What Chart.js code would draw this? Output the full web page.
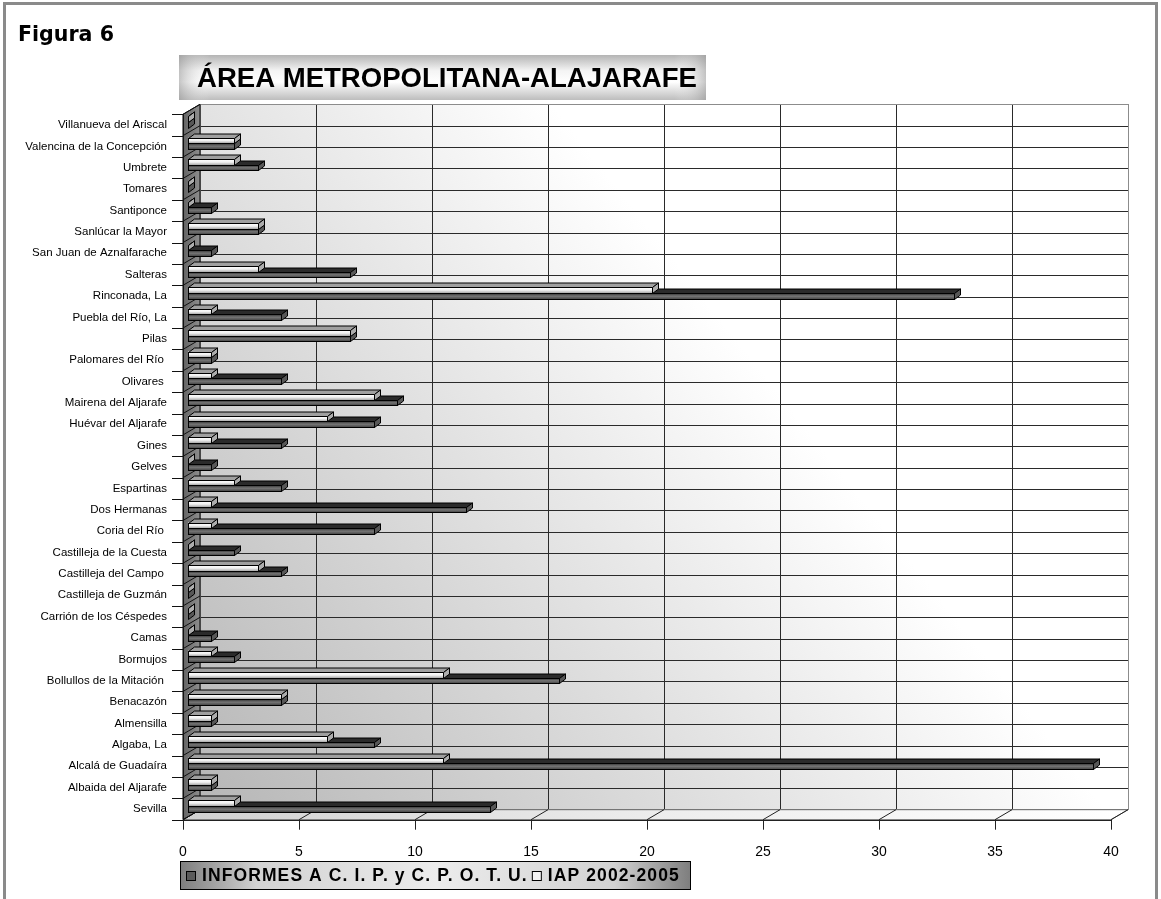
<!DOCTYPE html>
<html>
<head>
<meta charset="utf-8">
<script src="https://cdn.jsdelivr.net/npm/chart.js@4.4.1/dist/chart.umd.min.js"></script>
<style>
  html, body { margin: 0; padding: 0; background: #ffffff; }
  canvas { display: block; }
</style>
</head>
<body>
<canvas id="chart" width="1161" height="899"></canvas>
<script>
// Municipalities, listed from the bottom row upwards
const categories = [
  "Sevilla", "Albaida del Aljarafe", "Alcalá de Guadaíra", "Algaba, La", "Almensilla",
  "Benacazón", "Bollullos de la Mitación ", "Bormujos", "Camas", "Carrión de los Céspedes",
  "Castilleja de Guzmán", "Castilleja del Campo ", "Castilleja de la Cuesta", "Coria del Río ",
  "Dos Hermanas", "Espartinas", "Gelves", "Gines", "Huévar del Aljarafe", "Mairena del Aljarafe",
  "Olivares ", "Palomares del Río ", "Pilas", "Puebla del Río, La", "Rinconada, La", "Salteras",
  "San Juan de Aznalfarache", "Sanlúcar la Mayor", "Santiponce", "Tomares", "Umbrete",
  "Valencina de la Concepción", "Villanueva del Ariscal"
];

// INFORMES A C. I. P. y C. P. O. T. U.
const informes = [13, 1, 39, 8, 1, 4, 16, 2, 1, 0, 0, 4, 2, 8, 12, 4, 1, 4, 8, 9, 4, 1, 7, 4, 33, 7, 1, 3, 1, 0, 3, 2, 0];

// IAP 2002-2005
const iap = [2, 1, 11, 6, 1, 4, 11, 1, 0, 0, 0, 3, 0, 1, 1, 2, 0, 1, 6, 8, 1, 1, 7, 1, 20, 3, 0, 3, 0, 0, 2, 2, 0];

const xTicks = [0, 5, 10, 15, 20, 25, 30, 35, 40];
const seriesNames = ["INFORMES A C. I. P. y C. P. O. T. U.", "IAP 2002-2005"];
const figureLabel = "Figura 6";
const titleText = "ÁREA METROPOLITANA-ALAJARAFE";

// Depth projection: the bars sit in a middle plane; front edge and back wall are offset from it
const FRONT = { dx: -5, dy: 3 };
const BACK = { dx: 12, dy: -7 };
const BAR_DEPTH = { dx: 6, dy: -4.5 };

function line(ctx, x1, y1, x2, y2) {
  ctx.beginPath();
  ctx.moveTo(x1, y1);
  ctx.lineTo(x2, y2);
  ctx.stroke();
}
function poly(ctx, pts, fill, stroke) {
  ctx.beginPath();
  ctx.moveTo(pts[0][0], pts[0][1]);
  for (let i = 1; i < pts.length; i++) ctx.lineTo(pts[i][0], pts[i][1]);
  ctx.closePath();
  if (fill) { ctx.fillStyle = fill; ctx.fill(); }
  if (stroke) { ctx.strokeStyle = stroke; ctx.lineWidth = 1; ctx.stroke(); }
}
function fitFont(ctx, text, weight, family, targetWidth, maxSize) {
  ctx.font = weight + " 20px " + family;
  const w = ctx.measureText(text).width;
  return Math.min(maxSize, 20 * targetWidth / w);
}

// Page frame, figure label, title banner and legend
const decorPlugin = {
  id: "decor",
  beforeDraw(chart) {
    const ctx = chart.ctx;
    ctx.save();
    ctx.fillStyle = "#ffffff";
    ctx.fillRect(0, 0, chart.width, chart.height);

    // outer frame
    ctx.strokeStyle = "#8a8a8a";
    ctx.lineWidth = 3;
    ctx.beginPath();
    ctx.moveTo(4.5, 940);
    ctx.lineTo(4.5, 3.5);
    ctx.lineTo(1156.5, 3.5);
    ctx.lineTo(1156.5, 940);
    ctx.stroke();

    // figure label
    const fam = '"DejaVu Sans", Verdana, sans-serif';
    let s = fitFont(ctx, figureLabel, "bold", fam, 96, 21);
    ctx.font = "bold " + s + "px " + fam;
    ctx.fillStyle = "#000";
    ctx.textBaseline = "middle";
    ctx.textAlign = "left";
    ctx.fillText(figureLabel, 18, 36);

    // title banner
    const bx = 179, by = 55, bw = 527, bh = 45;
    let g = ctx.createLinearGradient(0, by, 0, by + bh);
    g.addColorStop(0, "#b4b4b4");
    g.addColorStop(0.35, "#f4f4f4");
    g.addColorStop(0.6, "#ffffff");
    g.addColorStop(1, "#bdbdbd");
    ctx.fillStyle = g;
    ctx.fillRect(bx, by, bw, bh);
    g = ctx.createLinearGradient(bx, 0, bx + bw, 0);
    g.addColorStop(0, "rgba(150,150,150,0.55)");
    g.addColorStop(0.06, "rgba(255,255,255,0)");
    g.addColorStop(0.94, "rgba(255,255,255,0)");
    g.addColorStop(1, "rgba(150,150,150,0.55)");
    ctx.fillStyle = g;
    ctx.fillRect(bx, by, bw, bh);
    const tfam = '"Liberation Sans", Arial, sans-serif';
    s = fitFont(ctx, titleText, "bold", tfam, 500, 30);
    ctx.font = "bold " + s + "px " + tfam;
    ctx.fillStyle = "#000";
    ctx.textAlign = "left";
    ctx.fillText(titleText, 197, 79);
    ctx.restore();
  },
  afterDraw(chart) {
    const ctx = chart.ctx;
    ctx.save();
    const lx = 180.5, ly = 861.5, lw = 510, lh = 28;
    const g = ctx.createLinearGradient(lx, 0, lx + lw, 0);
    g.addColorStop(0, "#7e7e7e");
    g.addColorStop(0.15, "#d2d2d2");
    g.addColorStop(0.5, "#ececec");
    g.addColorStop(0.85, "#d2d2d2");
    g.addColorStop(1, "#7e7e7e");
    ctx.fillStyle = g;
    ctx.fillRect(lx, ly, lw, lh);
    ctx.strokeStyle = "#000";
    ctx.lineWidth = 1;
    ctx.strokeRect(lx, ly, lw, lh);

    const fam = '"Liberation Sans", Arial, sans-serif';
    ctx.font = "bold 17.5px " + fam;
    const natural = ctx.measureText(seriesNames[0]).width;
    const spacing = Math.max(0, (326 - natural) / seriesNames[0].length);
    ctx.letterSpacing = spacing.toFixed(2) + "px";
    ctx.textBaseline = "middle";
    ctx.textAlign = "left";
    const cy = ly + lh / 2 + 0.5;
    let x = 186;
    const ds = chart.data.datasets;
    for (let i = 0; i < ds.length; i++) {
      ctx.fillStyle = ds[i].backgroundColor;
      ctx.fillRect(x + 0.5, cy - 4.5, 9, 9);
      ctx.strokeStyle = "#000";
      ctx.strokeRect(x + 0.5, cy - 4.5, 9, 9);
      ctx.fillStyle = "#000";
      ctx.fillText(ds[i].label, x + 16, cy);
      x += 16 + ctx.measureText(ds[i].label).width + 4;
    }
    ctx.restore();
  }
};

// Back wall, side wall, floor, grid and tick marks in perspective
const boxPlugin = {
  id: "box3d",
  beforeDatasetsDraw(chart) {
    const { ctx, chartArea: a } = chart;
    const xs = chart.scales.x;
    const n = categories.length;
    const band = (a.bottom - a.top) / n;
    const fx = v => xs.getPixelForValue(v) + FRONT.dx;
    const bxp = v => xs.getPixelForValue(v) + BACK.dx;
    const topB = a.top + BACK.dy, botB = a.bottom + BACK.dy;
    const topF = a.top + FRONT.dy, botF = a.bottom + FRONT.dy;
    const l0F = fx(xTicks[0]), l0B = bxp(xTicks[0]);
    const rF = fx(xTicks[xTicks.length - 1]), rB = bxp(xTicks[xTicks.length - 1]);
    const r = v => Math.round(v) + 0.5;

    ctx.save();
    // back wall
    const g = ctx.createLinearGradient(l0B, botB, l0B + 560, botB - 440);
    g.addColorStop(0, "#b6b6b6");
    g.addColorStop(1, "#ffffff");
    ctx.fillStyle = g;
    ctx.fillRect(l0B, topB, rB - l0B, botB - topB);

    ctx.lineWidth = 1;
    ctx.strokeStyle = "#2a2a2a";
    for (let k = 1; k < n; k++) {
      const yy = r(a.top + k * band + BACK.dy);
      line(ctx, l0B, yy, rB, yy);
    }
    for (let i = 1; i < xTicks.length - 1; i++) {
      const xx = r(bxp(xTicks[i]));
      line(ctx, xx, topB, xx, botB);
    }
    ctx.strokeStyle = "#8c8c8c";
    ctx.strokeRect(r(l0B), r(topB), Math.round(rB - l0B), Math.round(botB - topB));

    // floor
    const gf = ctx.createLinearGradient(l0F, 0, rB, 0);
    gf.addColorStop(0, "#d0d0d0");
    gf.addColorStop(0.5, "#ededed");
    gf.addColorStop(1, "#ffffff");
    poly(ctx, [[l0F, botF], [rF, botF], [rB, botB], [l0B, botB]], gf, "#6a6a6a");
    ctx.strokeStyle = "#222";
    for (const v of xTicks) {
      line(ctx, fx(v), botF, bxp(v), botB);
      line(ctx, r(fx(v)), botF, r(fx(v)), botF + 10);
    }
    line(ctx, l0F, r(botF), rF, r(botF));

    // left wall
    const gw = ctx.createLinearGradient(l0F, 0, l0B, 0);
    gw.addColorStop(0, "#636363");
    gw.addColorStop(1, "#8e8e8e");
    poly(ctx, [[l0F, topF], [l0B, topB], [l0B, botB], [l0F, botF]], gw, "#000");
    ctx.strokeStyle = "#111";
    for (let k = 0; k <= n; k++) {
      const yF = a.top + k * band + FRONT.dy;
      const yB = a.top + k * band + BACK.dy;
      line(ctx, l0F, yF, l0B, yB);
      line(ctx, l0F - 11, r(yF), l0F, r(yF));
    }
    line(ctx, r(l0F), topF, r(l0F), botF);
    ctx.restore();
  },
  // extrude each bar: shaded front, top face and end cap
  afterDatasetDraw(chart, args) {
    const ctx = chart.ctx;
    const dark = args.index === 0;
    ctx.save();
    ctx.lineWidth = 1;
    for (const el of args.meta.data) {
      const p = el.getProps(["x", "y", "base", "height"], true);
      const x0 = Math.round(Math.min(p.base, p.x)) + 0.5;
      const x1 = Math.round(Math.max(p.base, p.x)) + 0.5;
      const top = Math.round(p.y - p.height / 2) + 0.5;
      const bot = Math.round(p.y + p.height / 2) + 0.5;
      const dx = BAR_DEPTH.dx, dy = BAR_DEPTH.dy;

      if (x1 > x0) {
        const gr = ctx.createLinearGradient(0, top, 0, bot);
        if (dark) {
          gr.addColorStop(0, "#363636");
          gr.addColorStop(0.45, "#767676");
          gr.addColorStop(1, "#414141");
        } else {
          gr.addColorStop(0, "#ffffff");
          gr.addColorStop(0.45, "#f0f0f0");
          gr.addColorStop(1, "#9c9c9c");
        }
        ctx.fillStyle = gr;
        ctx.fillRect(x0, top, x1 - x0, bot - top);
        ctx.strokeStyle = "#000";
        ctx.strokeRect(x0, top, x1 - x0, bot - top);
      }
      poly(ctx, [[x0, top], [x1, top], [x1 + dx, top + dy], [x0 + dx, top + dy]],
        dark ? "#2b2b2b" : "#a0a0a0", "#000");
      poly(ctx, [[x1, top], [x1 + dx, top + dy], [x1 + dx, bot + dy], [x1, bot]],
        dark ? "#575757" : "#adadad", "#000");
    }
    ctx.restore();
  }
};

const tickFont = { family: '"Liberation Sans Narrow", "Liberation Sans", Arial, sans-serif', size: 14 };
const catFont = { family: '"Liberation Sans", Arial, sans-serif', size: 11.5 };

new Chart(document.getElementById("chart"), {
  type: "bar",
  data: {
    labels: categories,
    datasets: [
      { label: seriesNames[0], data: informes, order: 2, backgroundColor: "#5a5a5a",
        borderColor: "#000", borderWidth: 0, categoryPercentage: 0.52, barPercentage: 1 },
      { label: seriesNames[1], data: iap, order: 1, backgroundColor: "#f4f4f4",
        borderColor: "#000", borderWidth: 0, categoryPercentage: 0.52, barPercentage: 1 }
    ]
  },
  options: {
    indexAxis: "y",
    responsive: false,
    devicePixelRatio: 1,
    animation: false,
    layout: { padding: { top: 111.3, right: 45, bottom: 22.3, left: 0 } },
    scales: {
      x: {
        min: 0, max: 40,
        afterBuildTicks(scale) { scale.ticks = xTicks.map(v => ({ value: v })); },
        afterFit(scale) { scale.height = 60; },
        grid: { display: false },
        border: { display: false },
        ticks: { color: "#000", font: tickFont, padding: 19, labelOffset: -5, maxRotation: 0 }
      },
      y: {
        reverse: true,
        afterFit(scale) { scale.width = 188; },
        grid: { display: false },
        border: { display: false },
        ticks: { color: "#000", font: catFont, padding: 13, labelOffset: 3, autoSkip: false }
      }
    },
    plugins: {
      legend: { display: false },
      title: { display: false },
      tooltip: { enabled: false }
    }
  },
  plugins: [decorPlugin, boxPlugin]
});
</script>
</body>
</html>
